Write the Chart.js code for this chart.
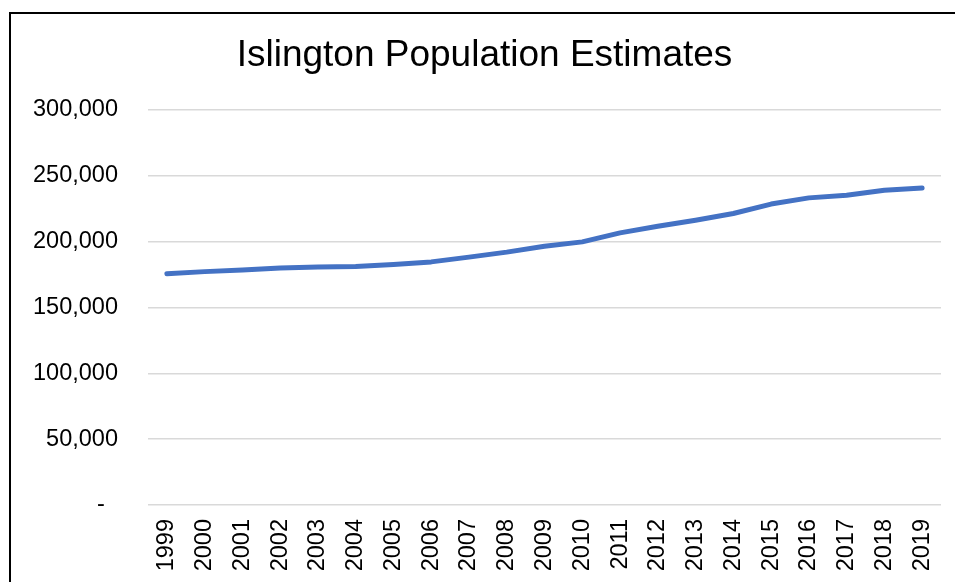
<!DOCTYPE html>
<html>
<head>
<meta charset="utf-8">
<script src="https://cdn.jsdelivr.net/npm/chart.js@4/dist/chart.umd.min.js"></script>
<style>
  html, body { margin: 0; padding: 0; width: 955px; height: 582px; overflow: hidden; background: #fff; }
  #frame { position: absolute; left: 9px; top: 12px; width: 1100px; height: 700px;
           border-left: 2px solid #000; border-top: 2px solid #000; }
  #c { position: absolute; left: 0; top: 0; }
</style>
</head>
<body>
<div id="frame"></div>
<canvas id="c" width="980" height="582"></canvas>
<script>
const titleText = "Islington Population Estimates";
const years = ["1999","2000","2001","2002","2003","2004","2005","2006","2007","2008","2009",
               "2010","2011","2012","2013","2014","2015","2016","2017","2018","2019"];
const population = [175500, 177200, 178500, 180000, 180800, 181100, 182600, 184600, 188200, 192000, 196500,
                    199800, 206600, 211700, 216200, 221300, 228500, 233200, 235200, 239000, 240700];
const yMin = 0, yMax = 300000, yStep = 50000;

const FONT = "'Liberation Sans', Arial, sans-serif";

new Chart(document.getElementById('c'), {
  type: 'line',
  data: {
    labels: years,
    datasets: [{
      label: 'Population',
      data: population,
      borderColor: '#4472C4',
      backgroundColor: '#4472C4',
      borderWidth: 5,
      borderCapStyle: 'round',
      borderJoinStyle: 'round',
      pointRadius: 0,
      pointHoverRadius: 0,
      tension: 0,
      fill: false
    }]
  },
  options: {
    responsive: false,
    animation: false,
    devicePixelRatio: 1,
    layout: { padding: { left: 28, right: 39, top: 0, bottom: 0 } },
    plugins: {
      legend: { display: false },
      tooltip: { enabled: false },
      title: {
        display: true,
        text: titleText,
        color: '#000',
        font: { family: FONT, size: 37, weight: 'normal' },
        padding: { top: 34, bottom: 31.5 }
      }
    },
    scales: {
      x: {
        offset: true,
        grid: { display: false, drawTicks: false },
        border: { display: false },
        ticks: {
          color: '#000',
          font: { family: FONT, size: 23.5 },
          minRotation: 90,
          maxRotation: 90,
          padding: 14,
          autoSkip: false
        },
        afterFit: (s) => { s.height = 77; }
      },
      y: {
        min: yMin,
        max: yMax,
        grid: { color: '#d9d9d9', lineWidth: 1.5, drawTicks: false },
        border: { display: false },
        ticks: {
          stepSize: yStep,
          color: '#000',
          font: { family: FONT, size: 23.5 },
          padding: 30,
          callback: (v) => v === 0 ? '-  ' : Number(v).toLocaleString('en-US')
        },
        afterFit: (s) => { s.width = 120; }
      }
    }
  }
});
</script>
</body>
</html>
